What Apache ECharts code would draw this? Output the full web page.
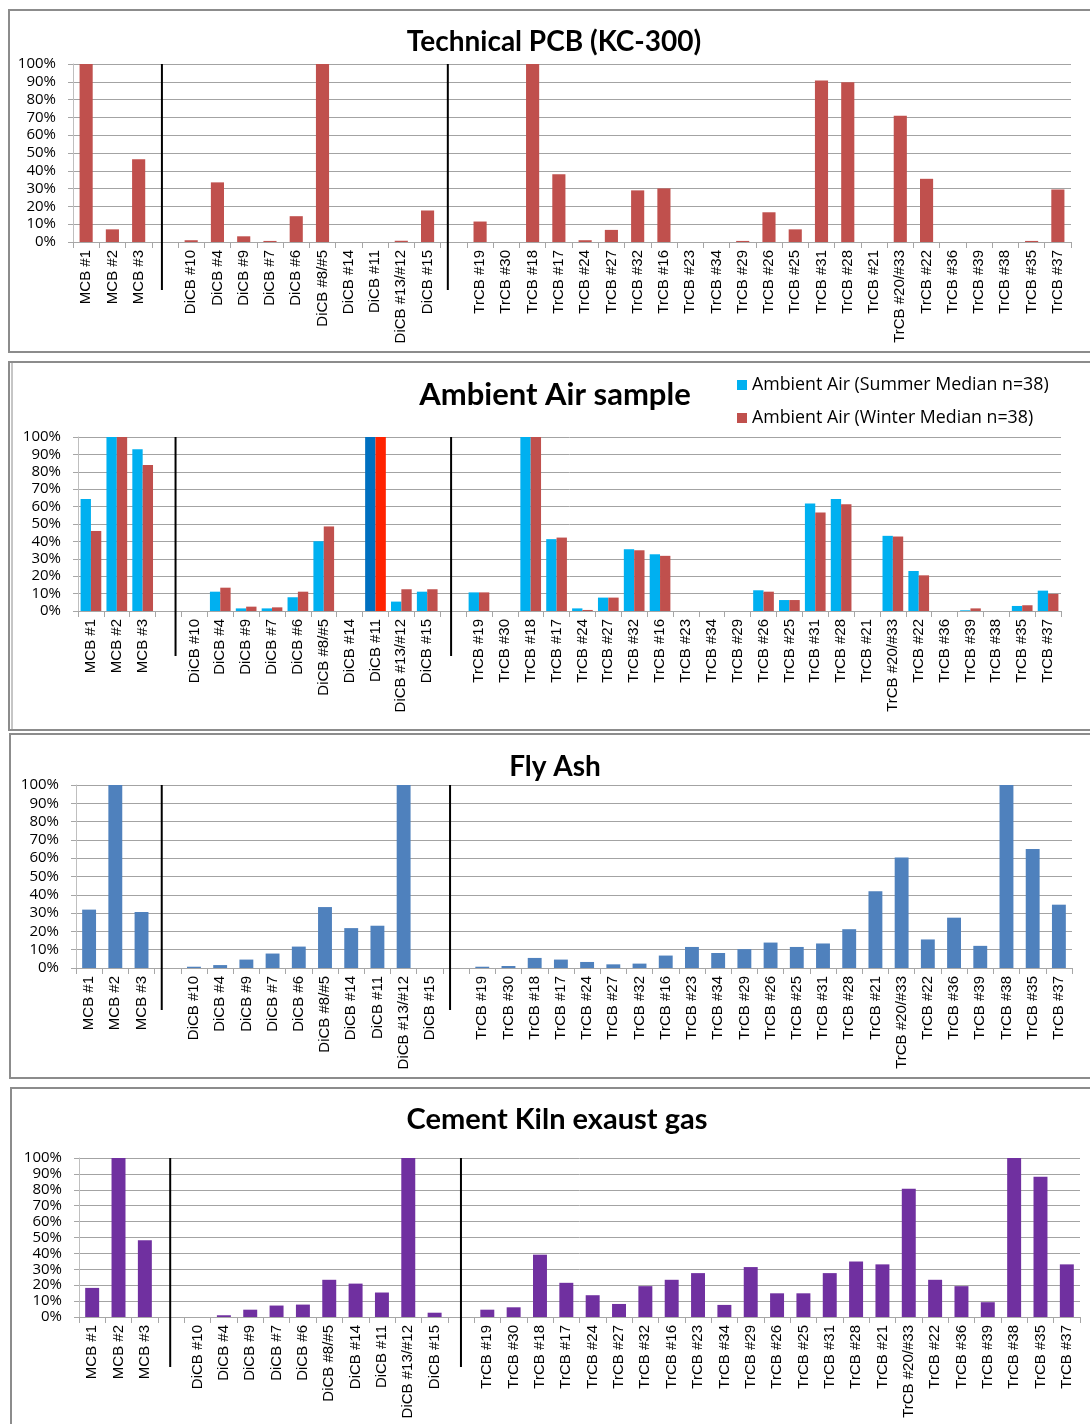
<!DOCTYPE html>
<html><head><meta charset="utf-8">
<script src="https://cdn.jsdelivr.net/npm/echarts@6/dist/echarts.min.js"></script>
<style>html,body{margin:0;padding:0;background:#fff}#c{width:1090px;height:1424px}</style>
</head><body><div id="c"></div>
<script>
// ---------- DATA ----------
const categories = ['MCB #1','MCB #2','MCB #3','',
  'DiCB #10','DiCB #4','DiCB #9','DiCB #7','DiCB #6','DiCB #8/#5','DiCB #14','DiCB #11','DiCB #13/#12','DiCB #15','',
  'TrCB #19','TrCB #30','TrCB #18','TrCB #17','TrCB #24','TrCB #27','TrCB #32','TrCB #16','TrCB #23','TrCB #34','TrCB #29',
  'TrCB #26','TrCB #25','TrCB #31','TrCB #28','TrCB #21','TrCB #20/#33','TrCB #22','TrCB #36','TrCB #39','TrCB #38','TrCB #35','TrCB #37'];

const yTicks = [0,10,20,30,40,50,60,70,80,90,100];

const technicalPCB = [100, 7.1, 46.5, null,
  1, 33.5, 3.2, 0.6, 14.5, 100, 0, 0, 0.7, 17.7, null,
  11.5, 0, 100, 38, 1, 6.8, 29, 30.1, 0, 0, 0.6, 16.7, 7.1, 90.8, 89.7, 0, 70.9, 35.5, 0, 0, 0, 0.6, 29.5];

const ambientSummer = [64.3, 100, 92.9, null,
  0, 11.1, 1.5, 1.5, 7.9, 40.1, 0, 100, 5.4, 11.1, null,
  10.7, 0, 100, 41.3, 1.5, 7.7, 35.5, 32.6, 0, 0, 0, 11.9, 6.3, 61.8, 64.3, 0, 43.2, 23, 0, 0.4, 0, 2.9, 11.7];

const ambientWinter = [46, 100, 83.9, null,
  0, 13.4, 2.5, 2.1, 11.1, 48.6, 0, 100, 12.5, 12.5, null,
  10.7, 0, 100, 42.2, 0.6, 7.7, 34.9, 31.7, 0, 0, 0, 11.1, 6.3, 56.6, 61.4, 0, 42.8, 20.5, 0, 1.5, 0, 3.3, 9.8];

const flyAsh = [31.9, 100, 30.6, null,
  0.7, 1.6, 4.6, 7.9, 11.7, 33.3, 21.8, 23.1, 100, 0, null,
  0.7, 1.1, 5.5, 4.6, 3.3, 2.0, 2.4, 6.8, 11.5, 8.2, 10.3, 13.9, 11.5, 13.4, 21.2, 41.9, 60.4, 15.6, 27.5, 12.1, 100, 65, 34.6];

const cementKiln = [18.3, 100, 48.2, null,
  0, 1.1, 4.6, 7.2, 7.8, 23.4, 21, 15.4, 100, 2.7, null,
  4.6, 6.1, 39.2, 21.5, 13.7, 8.2, 19.4, 23.4, 27.6, 7.6, 31.4, 14.9, 14.9, 27.6, 34.9, 33.1, 80.6, 23.4, 19.4, 9.3, 100, 88.2, 33.1];

const panelTitles = ['Technical PCB (KC-300)', 'Ambient Air sample', 'Fly Ash', 'Cement Kiln exaust gas'];
const ambientNames = ['Ambient Air (Summer Median n=38)', 'Ambient Air (Winter Median n=38)'];
const highlightCategory = 'DiCB #11';

// ---------- STYLE / LAYOUT ----------
const RED = '#C0504D', CYAN = '#00B0F0', STEEL = '#4F81BD', PURPLE = '#7030A0';
const HL_BLUE = '#0070C0', HL_RED = '#FF2200';
const grids = [
  {left:73, top:64, right:19, height:178},
  {left:78, top:437, right:29, height:174},
  {left:76, top:785, right:18, height:183},
  {left:79, top:1158, right:10, height:159}
];
const titleStyle = [{x:554, y:28, size:28},{x:555, y:379, size:31},{x:555, y:753, size:28},{x:557, y:1105, size:29}];
const sepExt = [48, 45, 42, 50];
const sepShift = [[-3,-6],[7,-2],[-6,-6],[-1,0]];   // hand-drawn separators sit slightly off-centre
const gapIdx = categories.map((c,i)=>c===''?i:-1).filter(i=>i>=0);

const chart = echarts.init(document.getElementById('c'), null, {renderer:'canvas', width:1090, height:1424});

function xAxisCfg(i){
  return {type:'category', gridIndex:i, data:categories, boundaryGap:true,
    axisLine:{show:true, lineStyle:{color:'#a6a6a6', width:1}},
    axisTick:{show:true, interval:0, length:6, lineStyle:{color:'#a6a6a6'}},
    axisLabel:{interval:0, rotate:90, margin:8, fontFamily:'Liberation Sans', fontSize:15, color:'#000'},
    splitLine:{show:false}};
}
function yAxisCfg(i){
  return {type:'value', gridIndex:i, min:yTicks[0], max:yTicks[yTicks.length-1], interval:yTicks[1]-yTicks[0],
    axisLine:{show:true, lineStyle:{color:'#bfbfbf'}},
    axisTick:{show:true, length:5, lineStyle:{color:'#a6a6a6'}},
    splitLine:{show:true, lineStyle:{color:'#a3a3a3', width:1}},
    axisLabel:{formatter:'{value}%', fontFamily:'Open Sans', fontSize:15, color:'#000', margin:17}};
}
function sepSeries(i){
  return {type:'custom', name:'sep'+i, xAxisIndex:i, yAxisIndex:i, silent:true, clip:false, z:10,
    data: gapIdx.map(g=>[g, yTicks[yTicks.length-1]]),
    renderItem:(p, api)=>{
      const t = api.coord([api.value(0), api.value(1)]);
      const b = api.coord([api.value(0), 0]);
      const x = t[0] + sepShift[i][p.dataIndex];
      return {type:'line', shape:{x1:x, y1:t[1], x2:x, y2:b[1]+sepExt[i]},
        style:{stroke:'#000', lineWidth:2}};
    }};
}
function colored(arr, hlColor){
  return arr.map((v,k)=> categories[k]===highlightCategory ? {value:v, itemStyle:{color:hlColor}} : v);
}

const panelBorders = [
  {x:9, y:10, w:1100, h:342},
  {x:9, y:362, w:1100, h:368},
  {x:10, y:734, w:1100, h:344},
  {x:11, y:1088, w:1100, h:360}
];

const option = {
  backgroundColor:'#fff',
  animation:false,
  title: panelTitles.map((t,i)=>({text:t, left:titleStyle[i].x, top:titleStyle[i].y, textAlign:'center',
    padding:0, textStyle:{fontFamily:'Lato', fontWeight:'bold', fontSize:titleStyle[i].size, color:'#000'}})),
  legend:{data:ambientNames, orient:'vertical', left:737, top:376, itemGap:15, itemWidth:10, itemHeight:10,
    icon:'rect', padding:0, textStyle:{fontFamily:'Open Sans', fontSize:17.8, color:'#000'}},
  grid: grids,
  xAxis: [0,1,2,3].map(xAxisCfg),
  yAxis: [0,1,2,3].map(yAxisCfg),
  graphic: panelBorders.map(b=>({type:'rect', shape:{x:b.x, y:b.y, width:b.w, height:b.h},
      style:{fill:null, stroke:'#8c8c8c', lineWidth:2}, silent:true, z:-1}))
      .concat([{type:'line', shape:{x1:12, y1:363, x2:12, y2:729}, style:{stroke:'#8c8c8c', lineWidth:1}, silent:true}]),
  series: [
    {type:'bar', name:'Technical PCB', xAxisIndex:0, yAxisIndex:0, data:technicalPCB, barCategoryGap:'50%',
      itemStyle:{color:RED}},
    {type:'bar', name:ambientNames[0], xAxisIndex:1, yAxisIndex:1, data:colored(ambientSummer, HL_BLUE),
      barGap:'0%', barCategoryGap:'20%', itemStyle:{color:CYAN}},
    {type:'bar', name:ambientNames[1], xAxisIndex:1, yAxisIndex:1, data:colored(ambientWinter, HL_RED),
      barGap:'0%', barCategoryGap:'20%', itemStyle:{color:RED}},
    {type:'bar', name:'Fly Ash', xAxisIndex:2, yAxisIndex:2, data:flyAsh, barCategoryGap:'47%',
      itemStyle:{color:STEEL}},
    {type:'bar', name:'Cement Kiln', xAxisIndex:3, yAxisIndex:3, data:cementKiln, barCategoryGap:'47%',
      itemStyle:{color:PURPLE}},
    sepSeries(0), sepSeries(1), sepSeries(2), sepSeries(3)
  ]
};
chart.setOption(option);
</script></body></html>
